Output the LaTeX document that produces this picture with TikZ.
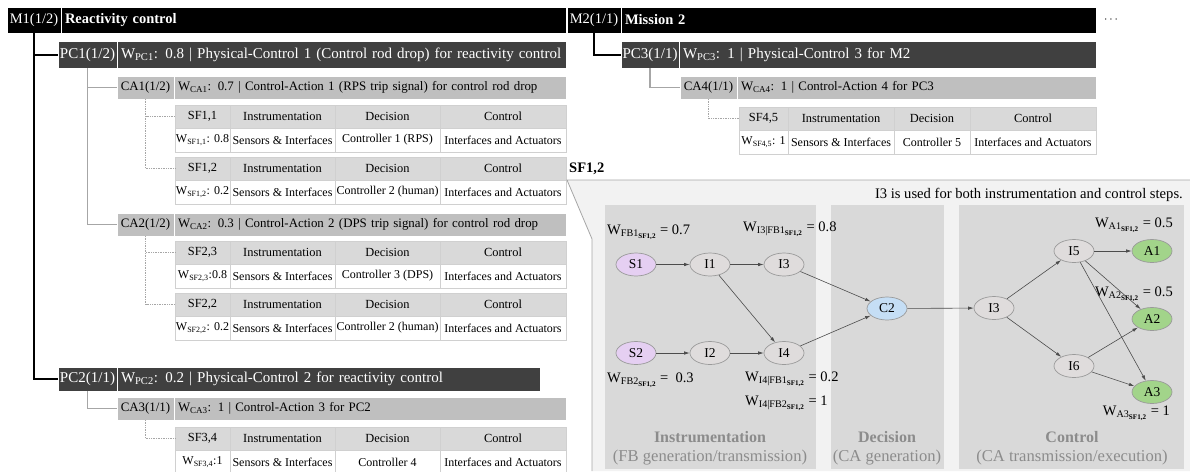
\documentclass[tikz,border=0pt]{standalone}
\usepackage{fontspec}
\setmainfont{Liberation Serif}
\usetikzlibrary{shapes.geometric,arrows.meta}
\definecolor{pcgray}{HTML}{404040}
\definecolor{cagray}{HTML}{BFBFBF}
\definecolor{hdgray}{HTML}{D9D9D9}
\definecolor{cellline}{HTML}{D0D0D0}
\definecolor{panelbg}{HTML}{F2F2F2}
\definecolor{panelin}{HTML}{D9D9D9}
\definecolor{panelline}{HTML}{A6A6A6}
\definecolor{snodec}{HTML}{E5CFF2}
\definecolor{inodec}{HTML}{DFDCDC}
\definecolor{cnodec}{HTML}{C5DEF5}
\definecolor{anodec}{HTML}{A2D48A}
\definecolor{nodeline}{HTML}{9A9A9A}
\definecolor{titlegray}{HTML}{8C8C8C}
\definecolor{treegray}{HTML}{A6A6A6}
\newcommand\fsz[1]{\fontsize{#1}{#1}\selectfont}
\newcommand\wsub[2]{W\textsubscript{#1\textsubscript{\bfseries #2}}}
\newcommand\sftab[9]{%
  \node[hcell, minimum width=#7] (#1a) at (#2,#3) {#4};
  \node[hcell, minimum width=#8] (#1b) at (#1a.north east) {Instrumentation};
  \node[hcell, minimum width=#9] (#1c) at (#1b.north east) {Decision};
  \node[hcell, minimum width=126] (#1d) at (#1c.north east) {Control};
  \node[dcell, minimum width=#7] (#1e) at (#1a.south west) {#5};
  \node[dcell, minimum width=#8] (#1f) at (#1b.south west) {Sensors \& Interfaces};
  \node[dcell, minimum width=#9] (#1g) at (#1c.south west) {#6};
  \node[dcell, minimum width=126] (#1h) at (#1d.south west) {Interfaces and Actuators};
}
\tikzset{
  lab/.style={anchor=north west, inner sep=0pt, outer sep=0pt, draw=white, line width=0.5pt},
  bar/.style={anchor=north west, inner ysep=0pt, inner xsep=4pt, outer sep=0pt, draw=white, line width=0.5pt, align=left},
  mlev/.style={fill=black, text=white, font=\fsz{14.5}},
  pclev/.style={fill=pcgray, text=white, font=\fsz{15}},
  calev/.style={fill=cagray, text=black, font=\fsz{12.9}},
  hcell/.style={anchor=north west, inner sep=0pt, outer sep=0pt, minimum height=23pt, fill=hdgray, draw=cellline, line width=0.5pt, font=\fsz{12.4}},
  dcell/.style={anchor=north west, inner sep=0pt, outer sep=0pt, minimum height=24pt, fill=white, draw=cellline, line width=0.5pt, font=\fsz{12}},
  blkline/.style={draw=black, line width=2pt},
  gryline/.style={draw=treegray, line width=1.3pt},
  dotline/.style={draw=treegray, line width=0.7pt, densely dotted},
  gnode/.style={ellipse, minimum width=40pt, minimum height=23pt, inner sep=0pt, draw=nodeline, line width=0.7pt, font=\fsz{13.5}},
  snode/.style={gnode, fill=snodec},
  inode/.style={gnode, fill=inodec},
  cnode/.style={gnode, fill=cnodec},
  anode/.style={gnode, fill=anodec},
  gedge/.style={draw=black!70, line width=0.6pt, -{Latex[length=5.5pt,width=3.4pt]}},
  wlab/.style={inner sep=0pt, font=\fsz{14.5}},
  ptitle/.style={inner sep=0pt, text=titlegray, font=\fsz{16.6}},
}
\begin{document}
\begin{tikzpicture}[x=1pt,y=-1pt]
\useasboundingbox (0,0) rectangle (1190,471);

% ---------- Mission 1 tree ----------
\node[lab, mlev, minimum width=54pt, minimum height=26pt] (M1) at (7,7) {M1(1/2)};
\node[bar, mlev, text width=497pt, minimum height=26pt] (M1bar) at (61,7) {\bfseries Reactivity control};

\node[lab, pclev, minimum width=59pt, minimum height=27pt] (PC1) at (58,41) {PC1(1/2)};
\node[bar, pclev, text width=441pt, minimum height=27pt] (PC1bar) at (117,41) {W\textsubscript{PC1}: 0.8 | Physical-Control 1 (Control rod drop) for reactivity control};

\node[lab, calev, minimum width=57pt, minimum height=23pt] (CA1) at (117,76) {CA1(1/2)};
\node[bar, calev, text width=384pt, minimum height=23pt] (CA1bar) at (174,76) {W\textsubscript{CA1}: 0.7 | Control-Action 1 (RPS trip signal) for control rod drop};

\sftab{SFa}{175}{105}{SF1,1}{W\textsubscript{SF1,1}: 0.8}{Controller 1 (RPS)}{55}{105}{105}
\sftab{SFb}{175}{157}{SF1,2}{W\textsubscript{SF1,2}: 0.2}{Controller 2 (human)}{55}{105}{105}

\node[lab, calev, minimum width=57pt, minimum height=23pt] (CA2) at (117,213) {CA2(1/2)};
\node[bar, calev, text width=384pt, minimum height=23pt] (CA2bar) at (174,213) {W\textsubscript{CA2}: 0.3 | Control-Action 2 (DPS trip signal) for control rod drop};

\sftab{SFc}{175}{241}{SF2,3}{W\textsubscript{SF2,3}:0.8}{Controller 3 (DPS)}{55}{105}{105}
\sftab{SFd}{175}{293}{SF2,2}{W\textsubscript{SF2,2}: 0.2}{Controller 2 (human)}{55}{105}{105}

\node[lab, pclev, minimum width=59pt, minimum height=24pt] (PC2) at (58,367) {PC2(1/1)};
\node[bar, pclev, text width=415pt, minimum height=24pt] (PC2bar) at (117,367) {W\textsubscript{PC2}: 0.2 | Physical-Control 2 for reactivity control};

\node[lab, calev, minimum width=57pt, minimum height=23pt] (CA3) at (117,397) {CA3(1/1)};
\node[bar, calev, text width=384pt, minimum height=23pt] (CA3bar) at (174,397) {W\textsubscript{CA3}: 1 | Control-Action 3 for PC2};

\sftab{SFe}{175}{427}{SF3,4}{W\textsubscript{SF3,4}:1}{Controller 4}{55}{105}{105}

\draw[blkline] (M1.south) |- (PC1.west);
\draw[blkline] (M1.south) |- (PC2.west);
\draw[gryline] (PC1.south) |- (CA1.west);
\draw[gryline] (PC1.south) |- (CA2.west);
\draw[gryline] (PC2.south) |- (CA3.west);
\draw[dotline] (CA1.south) |- (SFaa.west);
\draw[dotline] (CA1.south) |- (SFba.west);
\draw[dotline] (CA2.south) |- (SFca.west);
\draw[dotline] (CA2.south) |- (SFda.west);
\draw[dotline] (CA3.south) |- (SFea.west);

% ---------- Mission 2 tree ----------
\node[lab, mlev, minimum width=54pt, minimum height=26pt] (M2) at (567,7) {M2(1/1)};
\node[bar, mlev, text width=467pt, minimum height=26pt] (M2bar) at (621,7) {\bfseries Mission 2};
\node[inner sep=0pt, font=\fsz{12}] (more) at (1111,20) {$\cdots$};

\node[lab, pclev, minimum width=58pt, minimum height=27pt] (PC3) at (621,41) {PC3(1/1)};
\node[bar, pclev, text width=409pt, minimum height=27pt] (PC3bar) at (679,41) {W\textsubscript{PC3}: 1 | Physical-Control 3 for M2};

\node[lab, calev, minimum width=57pt, minimum height=23pt] (CA4) at (680,76) {CA4(1/1)};
\node[bar, calev, text width=351pt, minimum height=23pt] (CA4bar) at (737,76) {W\textsubscript{CA4}: 1 | Control-Action 4 for PC3};

\sftab{SFf}{739}{107}{SF4,5}{W\textsubscript{SF4,5}: 1}{Controller 5}{49}{106}{76}

\draw[blkline] (M2.south) |- (PC3.west);
\draw[gryline] (PC3.south) |- (CA4.west);
\draw[dotline] (CA4.south) |- (SFfa.west);

% ---------- SF1,2 detail panel ----------
\fill[panelbg] (567,180) -- (1190,180) -- (1190,471) -- (592,471) -- (592,239) -- cycle;
\draw[panelline, line width=0.8pt] (1190,180) -- (567,180) -- (592,239) -- (592,471);
\node[anchor=west, inner sep=0pt, font=\fsz{14.5}\bfseries] (SFlab) at (569,169) {SF1,2};
\node[anchor=east, inner sep=0pt, font=\fsz{14.6}] (note) at (1183,195) {I3 is used for both instrumentation and control steps.};

\fill[panelin] (605,205) rectangle (816,469);
\fill[panelin] (831,205) rectangle (944,469);
\fill[panelin] (959,205) rectangle (1184,469);

\node[ptitle, font=\fsz{16}\bfseries] (tI) at (710,437) {Instrumentation};
\node[ptitle] (sI) at (710,458) {(FB generation/transmission)};
\node[ptitle, font=\fsz{16}\bfseries] (tD) at (887,437) {Decision};
\node[ptitle] (sD) at (887,458) {(CA generation)};
\node[ptitle, font=\fsz{16}\bfseries] (tC) at (1072,437) {Control};
\node[ptitle] (sC) at (1072,458) {(CA transmission/execution)};

\node[snode] (S1) at (636,264.5) {S1};
\node[inode] (I1) at (710,264.5) {I1};
\node[inode] (I3a) at (784,264.5) {I3};
\node[snode] (S2) at (636,353) {S2};
\node[inode] (I2) at (710,353) {I2};
\node[inode] (I4) at (784,353) {I4};
\node[cnode] (C2) at (887,308.5) {C2};
\node[inode] (I3b) at (994,308) {I3};
\node[inode] (I5) at (1074,251) {I5};
\node[inode] (I6) at (1074,366) {I6};
\node[anode] (A1) at (1152,251) {A1};
\node[anode] (A2) at (1152,319) {A2};
\node[anode] (A3) at (1152,392) {A3};

\draw[gedge] (S1) -- (I1);
\draw[gedge] (I1) -- (I3a);
\draw[gedge] (I1) -- (I4);
\draw[gedge] (S2) -- (I2);
\draw[gedge] (I2) -- (I4);
\draw[gedge] (I3a) -- (C2);
\draw[gedge] (I4) -- (C2);
\draw[gedge] (C2) -- (I3b);
\draw[gedge] (I3b) -- (I5);
\draw[gedge] (I3b) -- (I6);
\draw[gedge] (I5) -- (A1);
\draw[gedge] (I5) -- (A2);
\draw[gedge] (I5) -- (A3);
\draw[gedge] (I6) -- (A2);
\draw[gedge] (I6) -- (A3);

\node[wlab, anchor=west] (wFB1) at (607,232) {\wsub{FB1}{SF1,2} = 0.7};
\node[wlab, anchor=west] (wI3) at (743,229) {\wsub{I3|FB1}{SF1,2} = 0.8};
\node[wlab, anchor=west] (wFB2) at (607,380) {\wsub{FB2}{SF1,2} =\ \ 0.3};
\node[wlab, anchor=west] (wI4a) at (745,379) {\wsub{I4|FB1}{SF1,2} = 0.2};
\node[wlab, anchor=west] (wI4b) at (745,403) {\wsub{I4|FB2}{SF1,2} = 1};
\node[wlab, anchor=east] (wA1) at (1173,225) {\wsub{A1}{SF1,2} = 0.5};
\node[wlab, anchor=east] (wA2) at (1173,294) {\wsub{A2}{SF1,2} = 0.5};
\node[wlab, anchor=east] (wA3) at (1170,413) {\wsub{A3}{SF1,2} = 1};
\end{tikzpicture}
\end{document}
